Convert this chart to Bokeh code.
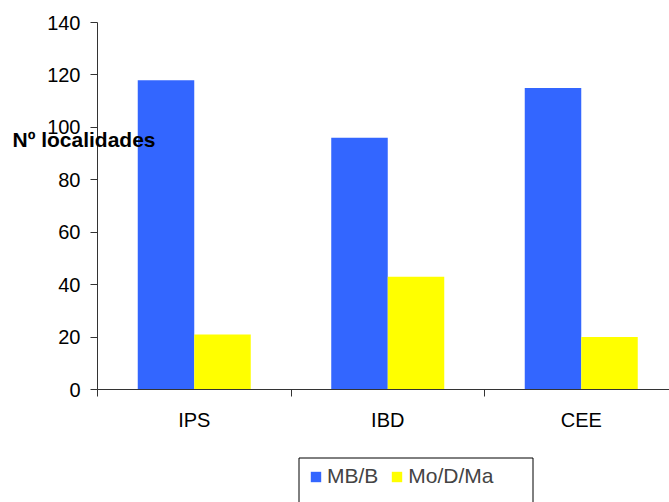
from bokeh.plotting import figure
from bokeh.models import (Range1d, FixedTicker, Legend, LegendItem, Label, BoxAnnotation)
from bokeh.embed import file_html
from bokeh.resources import INLINE

# Number of localities per index, by quality class
categories = ["IPS", "IBD", "CEE"]
mb_b = [118, 96, 115]        # MB/B
mo_d_ma = [21, 43, 20]       # Mo/D/Ma
y_ticks = [0, 20, 40, 60, 80, 100, 120, 140]

BLUE = "#3366FF"
YELLOW = "#FFFF00"
AXIS = "#333333"
FONT = "Liberation Sans"

W, H = 669, 502
# Plot area in canvas pixels: the axes sit inside a frame that fills the canvas
AX_LEFT, AX_TOP, AX_BOTTOM = 97, 22, 389
CAT_PX = 193.5          # width of one category in pixels
Y_MAX = 140

ppu_x = CAT_PX
ppu_y = (AX_BOTTOM - AX_TOP) / Y_MAX
x0 = -AX_LEFT / ppu_x
x1 = x0 + W / ppu_x
y1 = Y_MAX + AX_TOP / ppu_y
y0 = y1 - H / ppu_y


def px_x(px):
    return x0 + px / ppu_x


def px_y(py):
    return y1 - py / ppu_y


bar_w = 0.292
centers = [i + 0.5 for i in range(len(categories))]
x_blue = [c - bar_w / 2 for c in centers]
x_yellow = [c + bar_w / 2 for c in centers]

p = figure(width=W, height=H, output_backend="svg", toolbar_location=None,
           x_range=Range1d(x0, x1), y_range=Range1d(y0, y1),
           min_border=0)
p.outline_line_color = None
p.xgrid.visible = False
p.ygrid.visible = False
p.background_fill_color = "white"
p.border_fill_color = "white"

r_blue = p.vbar(x=x_blue, top=mb_b, width=bar_w, fill_color=BLUE, line_color=None)
r_yellow = p.vbar(x=x_yellow, top=mo_d_ma, width=bar_w, fill_color=YELLOW, line_color=None)

# x axis: labels at category centres, tick marks between categories
xa = p.xaxis[0]
xa.fixed_location = 0
xa.bounds = (0, x1)
xa.ticker = FixedTicker(ticks=centers, minor_ticks=[0, 1, 2, 3])
xa.major_label_overrides = {c: n for c, n in zip(centers, categories)}
xa.major_tick_out = 0
xa.major_tick_in = 0
xa.minor_tick_out = 7
xa.minor_tick_in = 0
xa.minor_tick_line_color = AXIS
xa.axis_line_color = AXIS
xa.major_label_text_font = FONT
xa.major_label_text_font_size = "20px"
xa.major_label_text_color = "black"
xa.major_label_standoff = 12

ya = p.yaxis[0]
ya.fixed_location = 0
ya.bounds = (0, Y_MAX)
ya.ticker = FixedTicker(ticks=y_ticks, minor_ticks=[])
ya.major_tick_out = 7
ya.major_tick_in = 0
ya.major_tick_line_color = AXIS
ya.axis_line_color = AXIS
ya.major_label_text_font = FONT
ya.major_label_text_font_size = "20px"
ya.major_label_text_color = "black"
ya.major_label_standoff = 10

# y axis title, written horizontally across the axis
p.add_layout(Label(x=px_x(12), y=px_y(139), text="Nº localidades",
                   text_font=FONT, text_font_size="21px", text_font_style="bold",
                   text_baseline="middle", text_align="left", text_color="black"))

# legend frame, running off the bottom of the canvas
p.add_layout(BoxAnnotation(left=px_x(298.5), right=px_x(532.5),
                           top=px_y(457.5), bottom=px_y(520),
                           fill_color="white", fill_alpha=1,
                           line_color="black", line_alpha=1, line_width=1))

legend = Legend(items=[LegendItem(label="MB/B", renderers=[r_blue]),
                       LegendItem(label="Mo/D/Ma", renderers=[r_yellow])],
                orientation="horizontal", location=(299, H - 457 - 41),
                border_line_alpha=0, background_fill_alpha=0,
                label_text_font=FONT, label_text_font_size="21px",
                glyph_width=13, glyph_height=13, label_standoff=5,
                spacing=12, padding=10, margin=0, label_height=20)
p.add_layout(legend, "center")

open("out.html", "w").write(file_html(p, INLINE))
